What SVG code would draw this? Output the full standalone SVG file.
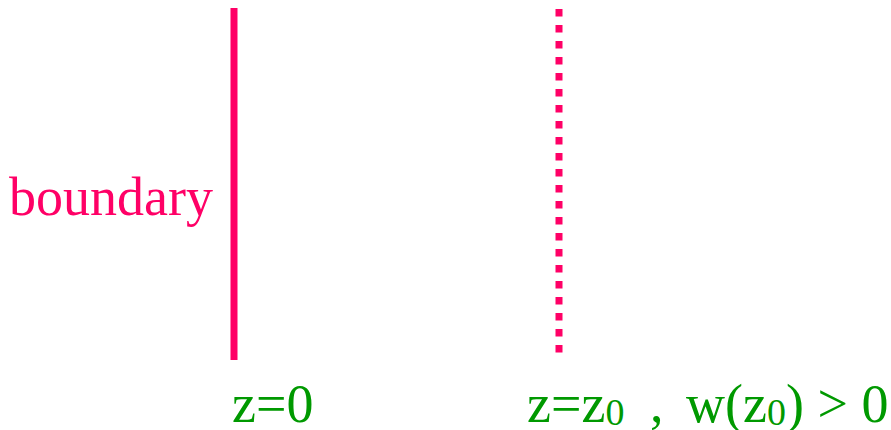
<svg xmlns="http://www.w3.org/2000/svg" width="891" height="430" viewBox="0 0 891 430">
<style>
.pink{fill:#ff0066;font-family:"Liberation Serif",serif;font-size:54px}
.green{fill:#009900;font-family:"Liberation Serif",serif;font-size:54px}
.sub{font-size:38px}
</style>
<rect width="891" height="430" fill="#fff"/>
<g id="boundary">
<line x1="234" y1="8" x2="234" y2="360" stroke="#ff0066" stroke-width="7"/>
<text class="pink" x="9" y="215">boundary</text>
</g>
<g id="z0plane">
<line x1="559" y1="9" x2="559" y2="353" stroke="#ff0066" stroke-width="7" stroke-dasharray="7.5 8.5"/>
</g>
<g id="labels">
<text class="green" x="232" y="422">z=0</text>
<text class="green" x="527" y="422">z=z<tspan class="sub" dy="3">0</tspan><tspan x="650" dy="-3">,</tspan><tspan x="686">w(z</tspan><tspan class="sub" dy="3">0</tspan><tspan dy="-3">) &gt; 0</tspan></text>
</g>
</svg>
